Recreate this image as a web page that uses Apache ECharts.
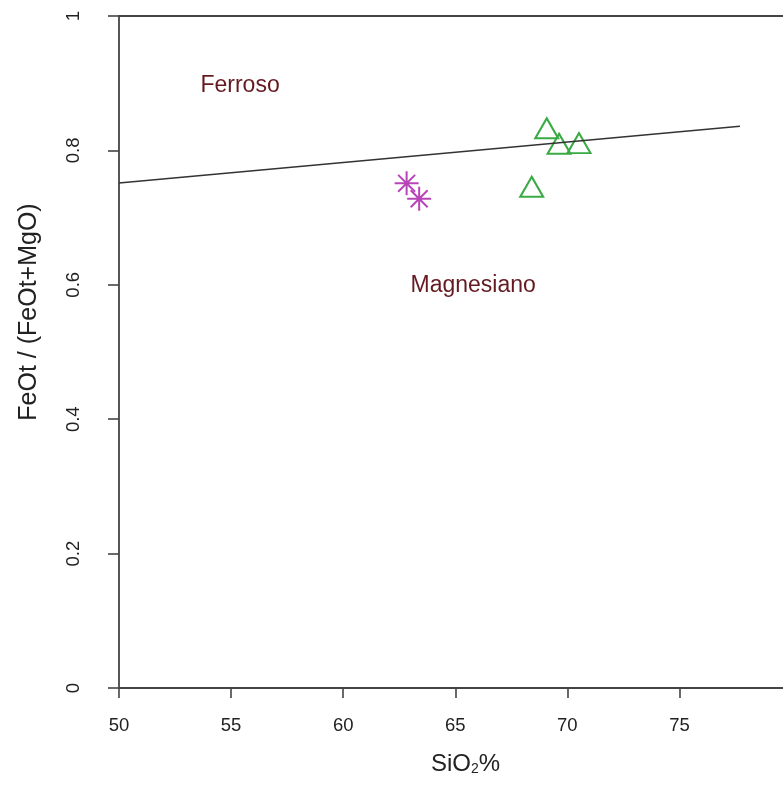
<!DOCTYPE html>
<html>
<head>
<meta charset="utf-8">
<title>FeOt/(FeOt+MgO) vs SiO2</title>
<script src="https://cdn.jsdelivr.net/npm/echarts@6/dist/echarts.min.js"></script>
<style>
  html, body { margin: 0; padding: 0; background: #fff; }
  #chart { width: 783px; height: 785px; }
</style>
</head>
<body>
<div id="chart"></div>
<script>
// data
var asteriskSiO2 = [62.83, 63.39];
var asteriskRatio = [0.751, 0.728];
var triangleSiO2 = [69.08, 69.63, 70.52, 68.41];
var triangleRatio = [0.828, 0.805, 0.806, 0.741];
var boundarySiO2 = [50, 77.7];
var boundaryRatio = [0.7515, 0.836];
var fieldNames = ['Ferroso', 'Magnesiano'];
var fieldSiO2 = [55.4, 65.8];
var fieldRatio = [0.896, 0.598];
var xTicks = [50, 55, 60, 65, 70, 75];
var yTicks = [0, 0.2, 0.4, 0.6, 0.8, 1];

var FONT = 'Liberation Sans, Arial, sans-serif';
var AXIS_COL = '#444';

function pairs(xs, ys) {
  return xs.map(function (x, i) { return [x, ys[i]]; });
}

var myChart = echarts.init(document.getElementById('chart'));

var option = {
  backgroundColor: '#fff',
  animation: false,
  grid: { left: 119, top: 16, right: 0, bottom: 97 },
  xAxis: [{
    type: 'value', min: 50, max: 79.62,
    axisLine: { show: true, lineStyle: { color: AXIS_COL, width: 1.8 } },
    axisTick: { show: true, length: 10, customValues: xTicks, lineStyle: { color: AXIS_COL, width: 1.6 } },
    axisLabel: { customValues: xTicks, margin: 28, fontSize: 18.5, color: '#222', fontFamily: FONT },
    splitLine: { show: false }
  }, {
    type: 'value', position: 'top', min: 50, max: 79.62,
    axisLine: { show: true, lineStyle: { color: AXIS_COL, width: 1.8 } },
    axisTick: { show: false }, axisLabel: { show: false }, splitLine: { show: false }
  }],
  yAxis: {
    type: 'value', min: 0, max: 1,
    axisLine: { show: true, lineStyle: { color: AXIS_COL, width: 1.8 } },
    axisTick: { show: true, length: 11, customValues: yTicks, lineStyle: { color: AXIS_COL, width: 1.6 } },
    axisLabel: { customValues: yTicks, rotate: 90, margin: 36, fontSize: 18.5, color: '#222', fontFamily: FONT },
    splitLine: { show: false }
  },
  graphic: [{
    type: 'text', left: 431, top: 752,
    style: {
      text: 'SiO{sub|2}%', fill: '#222', font: '24px ' + FONT,
      rich: { sub: { fontSize: 14, fontFamily: FONT, verticalAlign: 'bottom', lineHeight: 14, fill: '#222' } }
    }
  }, {
    type: 'text', x: 29, y: 312, rotation: Math.PI / 2,
    style: { text: 'FeOt / (FeOt+MgO)', fill: '#222', font: '25px ' + FONT, align: 'center', verticalAlign: 'middle' }
  }],
  series: [{
    type: 'line', xAxisIndex: 0,
    data: pairs(boundarySiO2, boundaryRatio),
    symbol: 'none', silent: true,
    lineStyle: { color: '#333', width: 1.5 }
  }, {
    type: 'scatter', xAxisIndex: 0,
    data: pairs(asteriskSiO2, asteriskRatio),
    symbol: 'path://M0,-1L0,1M-1,0L1,0M-0.707,-0.707L0.707,0.707M-0.707,0.707L0.707,-0.707',
    symbolSize: 24,
    itemStyle: { color: 'rgba(0,0,0,0)', borderColor: '#b845b8', borderWidth: 2, opacity: 1 }
  }, {
    type: 'scatter', xAxisIndex: 0,
    data: pairs(triangleSiO2, triangleRatio),
    symbol: 'triangle', symbolSize: [23, 20], symbolOffset: [0, -3.3],
    itemStyle: { color: 'rgba(0,0,0,0)', borderColor: '#3aab44', borderWidth: 2, opacity: 1 }
  }, {
    type: 'scatter', xAxisIndex: 0, silent: true,
    data: fieldNames.map(function (n, i) { return { name: n, value: [fieldSiO2[i], fieldRatio[i]] }; }),
    symbolSize: 0,
    itemStyle: { opacity: 1 },
    label: {
      show: true, position: 'inside', formatter: '{b}',
      fontSize: 23, color: '#641a20', fontFamily: FONT,
      textBorderWidth: 0, textBorderColor: 'transparent'
    }
  }]
};

myChart.setOption(option);
</script>
</body>
</html>
